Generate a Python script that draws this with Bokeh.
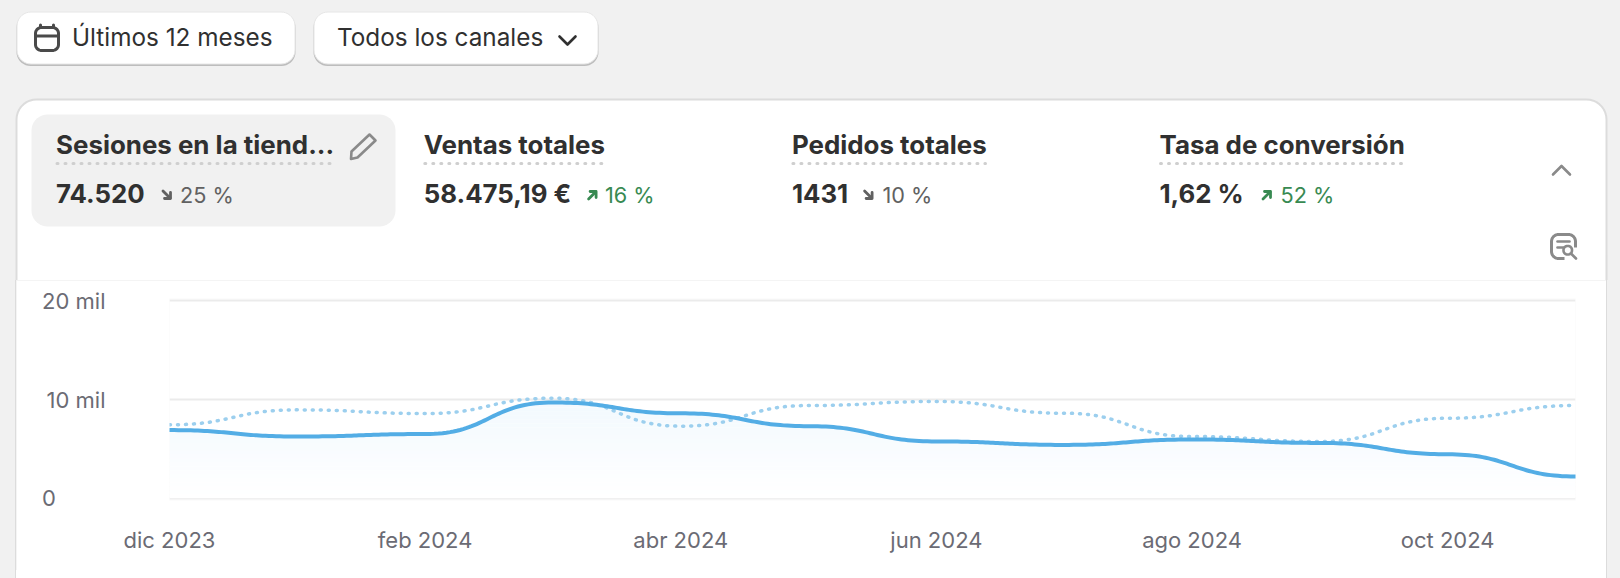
from bokeh.embed import file_html
from bokeh.resources import INLINE
from bokeh.plotting import figure
from bokeh.layouts import column
from bokeh.models import Range1d, FixedTicker
from bokeh.core.properties import value
import numpy as np

# ---------- data ----------
months = ["dic 2023", "ene 2024", "feb 2024", "mar 2024", "abr 2024", "may 2024",
          "jun 2024", "jul 2024", "ago 2024", "sep 2024", "oct 2024", "nov 2024"]
current_sessions = [6900, 6250, 6500, 9700, 8600, 7300, 5750, 5400, 5950, 5600, 4450, 2200]
previous_sessions = [7440, 8950, 8580, 10130, 7300, 9390, 9800, 8610, 6250, 5745, 8100, 9390]
x_tick_months = [0, 2, 4, 6, 8, 10]
y_ticks = [0, 10000, 20000]
y_tick_labels = {0: "0" + "\u00a0" * 8, 10000: "10 mil", 20000: "20 mil"}
metric_titles = ["Sesiones en la tiend...", "Ventas totales", "Pedidos totales", "Tasa de conversión"]
metric_values = ["74.520", "58.475,19 €", "1431", "1,62 %"]
metric_deltas = ["25 %", "16 %", "10 %", "52 %"]
metric_up = [False, True, False, True]
button_labels = ["Últimos 12 meses", "Todos los canales"]

FONT = "Inter"
INK = "#303030"
GREY = "#616161"
GREEN = "#388a52"
BLUE = "#53ade5"
BLUE_LIGHT = "#9ccfee"
PAGE = "#f1f1f1"
ICON = "#8a8a8a"


def flat_curve(xs, ys, per=40):
    """Drawing path through the monthly values, level at each month."""
    ox, oy = [], []
    t = np.linspace(0, 1, per, endpoint=False)
    for i in range(len(xs) - 1):
        a, b = float(xs[i]), float(xs[i + 1])
        m = (a + b) / 2
        c, d = float(ys[i]), float(ys[i + 1])
        ox.extend((1-t)**3*a + 3*(1-t)**2*t*m + 3*(1-t)*t**2*m + t**3*b)
        oy.extend((1-t)**3*c + 3*(1-t)**2*t*c + 3*(1-t)*t**2*d + t**3*d)
    ox.append(float(xs[-1])); oy.append(float(ys[-1]))
    return np.array(ox), np.array(oy)


# ---------- header figure: page furniture, in page pixels ----------
TOTAL_W, HEAD_H, CHART_H = 1612, 280, 290
h = figure(width=TOTAL_W, height=HEAD_H, output_backend="svg", toolbar_location=None,
           x_range=Range1d(0, TOTAL_W), y_range=Range1d(HEAD_H, 0),
           x_axis_type=None, y_axis_type=None,
           min_border=0, min_border_left=0, min_border_right=0, min_border_top=0, min_border_bottom=0)
h.frame_align = False
h.grid.visible = False
h.outline_line_color = None
h.background_fill_color = PAGE
h.border_fill_color = PAGE


def rrect(x0, y0, x1, y1, r):
    a = np.linspace(0, np.pi / 2, 10)
    xs = np.concatenate([x0 + r - r*np.cos(a), x1 - r + r*np.sin(a), x1 - r + r*np.cos(a), x0 + r - r*np.sin(a)])
    ys = np.concatenate([y0 + r - r*np.sin(a), y0 + r - r*np.cos(a), y1 - r + r*np.sin(a), y1 - r + r*np.cos(a)])
    return xs, ys


def box(x0, y0, x1, y1, fill=None, line=None, lw=1, r=0):
    xs, ys = rrect(x0, y0, x1, y1, r)
    h.patch(xs, ys, fill_color=fill if fill else "#ffffff", fill_alpha=1 if fill else 0,
            line_color=line if line else "#ffffff", line_alpha=1 if line else 0, line_width=lw)


def stroke(pts, color, lw):
    h.line([q[0] for q in pts], [q[1] for q in pts], line_color=color, line_width=lw,
           line_cap="round", line_join="round")


def text(s, x, y, size, color=INK, style="normal"):
    h.text([x], [y - 0.395 * size], text=[s], text_font=value(FONT), text_font_size=f"{size}px",
           text_color=color, text_font_style=style, text_baseline="alphabetic", text_align="left")


def arrow_icon(x, y, up, color):
    if up:
        stroke([(x + 1.5, y + 9.5), (x + 8.5, y + 2.5)], color, 2.8)
        stroke([(x + 3, y + 2), (x + 9, y + 2), (x + 9, y + 8)], color, 2.8)
    else:
        stroke([(x + 1.5, y + 1.5), (x + 8.5, y + 8.5)], color, 2.8)
        stroke([(x + 3, y + 9), (x + 9, y + 9), (x + 9, y + 3)], color, 2.8)


box(16, 99, 1606, 420, fill="#ffffff", line="#dcdcdc", lw=2, r=20)
box(31, 114, 395, 226, fill=PAGE, r=16)

for x0, x1 in [(16, 295), (313, 598)]:
    box(x0, 13, x1, 65.5, fill="#bdbdbd", r=14)
    box(x0 + .5, 11.5, x1 - .5, 63.5, fill="#ffffff", line="#e6e6e6", lw=1, r=14)
text(button_labels[0], 71.5, 45.7, 24.3)
text(button_labels[1], 336.5, 45.7, 24.3)
stroke([(559, 36), (567, 44), (575, 36)], INK, 2.6)
box(35, 27, 58, 50, line="#4a4a4a", lw=3, r=6)
stroke([(36, 35.5), (57, 35.5)], "#4a4a4a", 3)
stroke([(40, 24.5), (40, 27)], "#4a4a4a", 3)
stroke([(53, 24.5), (53, 27)], "#4a4a4a", 3)

title_x = [55.5, 423.3, 791.4, 1159]
title_end = [333, 604, 985, 1403]
delta_icon_x = [161, 586.6, 862.6, 1261]
delta_x = [179.5, 604.5, 882, 1280]
for i in range(4):
    text(metric_titles[i], title_x[i], 154.5, 25.9, style="bold")
    h.line([title_x[i] + 1, title_end[i]], [163, 163], line_color="#cfcfcf", line_width=3,
           line_cap="round", line_dash=[1, 7])
    text(metric_values[i], title_x[i], 203, 25.8, style="bold")
    c = GREEN if metric_up[i] else GREY
    arrow_icon(delta_icon_x[i], 189, metric_up[i], c)
    text(metric_deltas[i], delta_x[i], 203, 21.7, color=c)

# pencil
stroke([(351, 151), (369, 134), (375, 140), (357, 157), (350.5, 158.5), (351, 151)], ICON, 2.6)
# chevron
stroke([(1552.5, 174), (1561, 165.5), (1569.5, 174)], ICON, 2.6)
# search-list icon
box(1551, 234, 1575, 258, line=ICON, lw=3, r=7)
box(1564, 247, 1578, 261, fill="#ffffff")
stroke([(1557, 241), (1569, 241)], ICON, 2.6)
stroke([(1557, 247), (1563, 247)], ICON, 2.6)
box(1563, 245.5, 1571.5, 254, line=ICON, lw=2.6, r=4)
stroke([(1571, 253.5), (1575.5, 258)], ICON, 2.6)

# ---------- chart figure ----------
p = figure(width=1590, height=CHART_H, output_backend="svg", toolbar_location=None,
           x_range=Range1d(0, len(months) - 1), y_range=Range1d(-233, 20233),
           min_border_left=153, min_border_right=31, min_border_top=18, min_border_bottom=70)
p.frame_align = False
p.margin = (0, 0, 0, 16)
p.outline_line_color = None
p.border_fill_color = "#ffffff"
p.background_fill_color = "#ffffff"
p.styles = {"box-shadow": "-1px 0 0 0 #dcdcdc, 1px 0 0 0 #dcdcdc"}

idx = np.arange(len(months))
xc, yc = flat_curve(idx, current_sessions)
xp, yp = flat_curve(idx, previous_sessions)

bands = np.linspace(0, 10000, 26)
top_rgb, bot_rgb = np.array([242, 249, 254]), np.array([255, 255, 255])
for lo, hi in zip(bands[:-1], bands[1:]):
    f = (lo + hi) / 2 / 10000
    r_, g_, b_ = (bot_rgb + (top_rgb - bot_rgb) * f).round().astype(int)
    p.varea(x=xc, y1=np.minimum(yc, lo), y2=np.minimum(yc, hi),
            fill_color=f"#{r_:02x}{g_:02x}{b_:02x}", fill_alpha=1)

p.line(xp, yp, line_color=BLUE_LIGHT, line_width=3.5, line_dash=[1, 7], line_cap="round")
p.line(xc, yc, line_color=BLUE, line_width=4, line_cap="round", line_join="round")

p.xgrid.visible = False
p.ygrid.ticker = FixedTicker(ticks=y_ticks)
p.ygrid.grid_line_color = "#ebebeb"
p.ygrid.grid_line_width = 2

AXIS = "#6b6b74"
xa = p.xaxis[0]
xa.ticker = FixedTicker(ticks=x_tick_months)
xa.major_label_overrides = {int(i): months[i] for i in x_tick_months}
ya = p.yaxis[0]
ya.ticker = FixedTicker(ticks=y_ticks)
ya.major_label_overrides = y_tick_labels
for ax, standoff in ((xa, 26), (ya, 64)):
    ax.axis_line_color = None
    ax.major_tick_line_color = None
    ax.minor_tick_line_color = None
    ax.major_tick_out = 0
    ax.major_tick_in = 0
    ax.major_label_text_font = FONT
    ax.major_label_text_font_size = "22px"
    ax.major_label_text_color = AXIS
    ax.major_label_standoff = standoff

page = column(h, p, spacing=0)
page.styles = {"background": PAGE,
               "box-shadow": f"5px 19px 0 -11px #ffffff, 5px 19px 0 -10px #dcdcdc, 0 0 0 10px {PAGE}"}

open("out.html", "w").write(file_html(page, INLINE))
